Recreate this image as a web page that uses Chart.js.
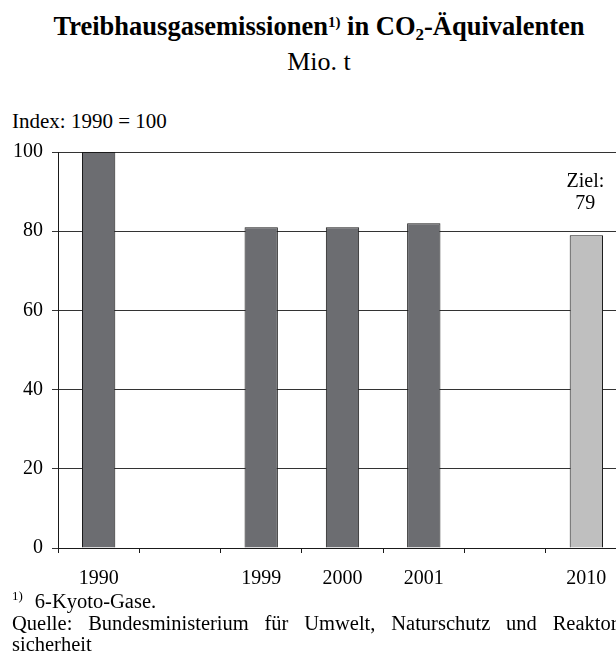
<!DOCTYPE html>
<html>
<head>
<meta charset="utf-8">
<script src="https://cdn.jsdelivr.net/npm/chart.js@4"></script>
<style>
body{margin:0;width:616px;height:661px;overflow:hidden;background:#fff;position:relative;font-family:"Liberation Serif","Times New Roman",serif;color:#000;}
#titel{position:absolute;left:0;top:11px;width:638px;text-align:center;font-weight:bold;font-size:26.5px;line-height:30px;white-space:nowrap;}
#titel sup{font-size:15px;vertical-align:8px;line-height:0;}
#titel sub{font-size:17px;vertical-align:-5px;line-height:0;}
#einheit{position:absolute;left:0;top:47px;width:638px;text-align:center;font-size:26px;line-height:30px;}
#index{position:absolute;left:12px;top:110px;font-size:21px;line-height:23px;}
#fuss{position:absolute;left:12px;top:591px;width:612px;font-size:20.5px;line-height:21.5px;}
#fuss sup{font-size:13px;vertical-align:8px;line-height:0;margin-right:12px;}
.just{text-align:justify;text-align-last:justify;}
#grafik{position:absolute;left:0;top:0;}
</style>
</head>
<body>
<div id="titel">Treibhausgasemissionen<sup>1)</sup> in CO<sub>2</sub>-Äquivalenten</div>
<div id="einheit">Mio. t</div>
<div id="index">Index: 1990 = 100</div>
<canvas id="grafik" width="640" height="661"></canvas>
<div id="fuss">
<div><sup>1)</sup>6-Kyoto-Gase.</div>
<div class="just">Quelle: Bundesministerium für Umwelt, Naturschutz und Reaktor-</div>
<div>sicherheit</div>
</div>
<script>
const jahre=["1990","","1999","2000","2001","","2010"];
const werte=[100,null,81,81,82,null,79];
const istZiel=[false,false,false,false,false,false,true];
const zielText=["Ziel:","79"];
const yTicks=[0,20,40,60,80,100];

const schrift="Liberation Serif";

const zielLabel={
    id:"zielLabel",
    afterDatasetsDraw(chart){
        const ctx=chart.ctx;
        const meta=chart.getDatasetMeta(0);
        istZiel.forEach((z,i)=>{
            if(!z) return;
            const bar=meta.data[i];
            ctx.save();
            ctx.fillStyle="#000";
            ctx.font="20px '"+schrift+"'";
            ctx.textAlign="center";
            ctx.textBaseline="alphabetic";
            ctx.fillText(zielText[0],bar.x-1,bar.y-48);
            ctx.fillText(zielText[1],bar.x-1,bar.y-26);
            ctx.restore();
        });
    }
};

const ctx=document.getElementById("grafik").getContext("2d");

new Chart(ctx,{
    type:"bar",
    data:{
        labels:jahre,
        datasets:[{
            data:werte,
            backgroundColor:istZiel.map(z=>z?"#bfbfbf":"#6c6d71"),
            borderColor:"#1a1a1a",
            borderWidth:1,
            barPercentage:0.41,
            categoryPercentage:1
        }]
    },
    options:{
        responsive:false,
        animation:false,
        layout:{padding:{top:152,right:13,left:0,bottom:0}},
        plugins:{
            legend:{display:false},
            title:{display:false},
            tooltip:{enabled:false}
        },
        scales:{
            x:{
                grid:{display:true,drawOnChartArea:false,drawTicks:true,tickLength:5,color:"#1a1a1a",offset:true},
                border:{display:true,color:"#1a1a1a",width:1},
                ticks:{color:"#000",font:{family:schrift,size:20},padding:14,maxRotation:0,autoSkip:false},
                afterFit(scale){scale.height=113;}
            },
            y:{
                min:0,
                max:100,
                afterBuildTicks(scale){scale.ticks=yTicks.map(v=>({value:v}));},
                grid:{color:"#333",tickLength:6,lineWidth:1},
                border:{display:true,color:"#1a1a1a",width:1},
                ticks:{color:"#000",font:{family:schrift,size:20},padding:9},
                afterFit(scale){scale.width=58;}
            }
        }
    },
    plugins:[zielLabel]
});
</script>
</body>
</html>
